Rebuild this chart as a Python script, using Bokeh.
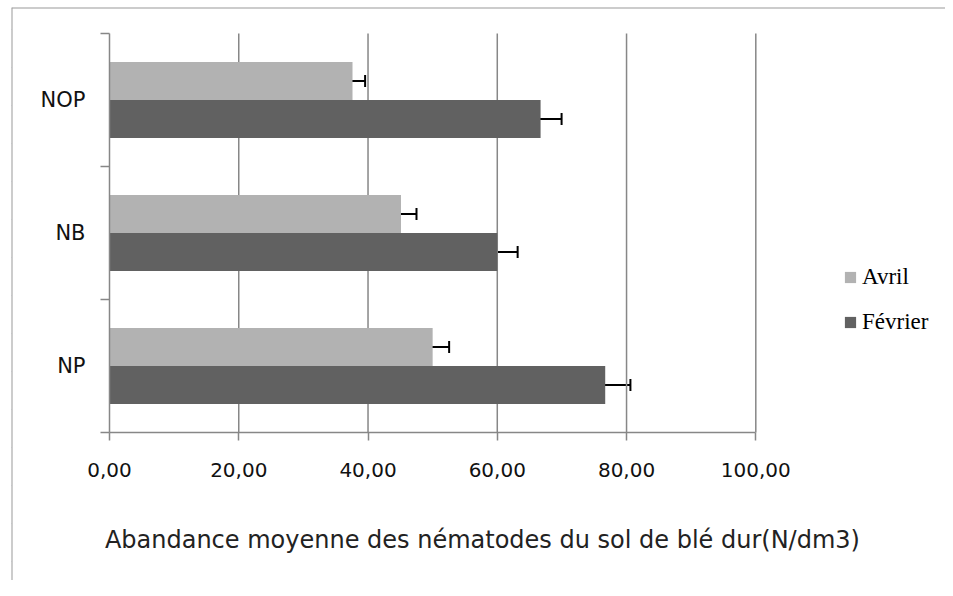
import numpy as np
from bokeh.plotting import figure
from bokeh.models import (ColumnDataSource, Range1d, LinearAxis, FixedTicker,
                          Whisker, TeeHead, Label)
from bokeh.embed import file_html
from bokeh.resources import INLINE

# ---------------- data ----------------
categories = ["NP", "NB", "NOP"]          # bottom to top
series_names = ["Avril", "Février"]
avril = [50.0, 45.1, 37.6]
fevrier = [76.7, 60.0, 66.7]
avril_err = [2.55, 2.4, 1.95]
fevrier_err = [3.9, 3.15, 3.25]
x_ticks = [0, 20, 40, 60, 80, 100]
x_tick_labels = ["0,00", "20,00", "40,00", "60,00", "80,00", "100,00"]
x_title = "Abandance moyenne des nématodes du sol de blé dur(N/dm3)"

# ---------------- style / layout ----------------
colors = ["#b2b2b2", "#616161"]
grid_color = "#878787"
frame_color = "#9a9a9a"
W, H = 945, 580
left_border = 11
top_border = 7
px_per_unit = 6.463          # horizontal pixels per data unit
zero_px = 98                 # frame px of x = 0
px_per_cat = 133             # vertical pixels per category
top_gap = 26                 # px between frame top and plot area top

n = len(categories)
x_start = -zero_px / px_per_unit
x_end = x_start + (W - left_border) / px_per_unit
y_end = n + top_gap / px_per_cat
y_start = y_end - (H - top_border) / px_per_cat

p = figure(width=W, height=H, x_range=Range1d(x_start, x_end),
           y_range=Range1d(y_start, y_end),
           x_axis_location=None, y_axis_location=None,
           toolbar_location=None, output_backend="svg")
p.min_border = 0
p.min_border_left = left_border
p.min_border_top = top_border
p.outline_line_color = None
p.grid.visible = False

cat_pos = np.arange(n) + 0.5
bar_h = 0.286

# grid lines (from tick values)
gx = x_ticks[1:]
p.segment(x0=gx, y0=[0] * len(gx), x1=gx, y1=[n] * len(gx),
          line_color=grid_color, line_width=1.5)

src_a = ColumnDataSource(dict(y=cat_pos + bar_h / 2, v=avril,
                              lo=np.array(avril) - np.array(avril_err),
                              hi=np.array(avril) + np.array(avril_err)))
src_f = ColumnDataSource(dict(y=cat_pos - bar_h / 2, v=fevrier,
                              lo=np.array(fevrier) - np.array(fevrier_err),
                              hi=np.array(fevrier) + np.array(fevrier_err)))

p.hbar(y="y", left=0, right="v", height=bar_h, source=src_a,
       fill_color=colors[0], line_color=None, legend_label=series_names[0])
p.hbar(y="y", left=0, right="v", height=bar_h, source=src_f,
       fill_color=colors[1], line_color=None, legend_label=series_names[1])

for src in (src_a, src_f):
    w = Whisker(source=src, base="y", lower="lo", upper="hi", dimension="width",
                line_color="black", line_width=2,
                lower_head=TeeHead(size=12, line_color="black", line_width=2),
                upper_head=TeeHead(size=12, line_color="black", line_width=2))
    p.add_layout(w)

# x axis
xaxis = LinearAxis(fixed_location=0, bounds=(0, 100),
                   ticker=FixedTicker(ticks=x_ticks, minor_ticks=[]),
                   major_label_overrides={t: l for t, l in zip(x_ticks, x_tick_labels)},
                   major_tick_out=8, major_tick_in=0, minor_tick_out=0, minor_tick_in=0,
                   axis_line_color=grid_color, axis_line_width=1.5,
                   major_tick_line_color=grid_color, major_tick_line_width=1.5,
                   major_label_standoff=22, major_label_text_font="DejaVu Sans",
                   major_label_text_font_size="20px", major_label_text_color="#111111")
p.add_layout(xaxis, "below")

# y (category) axis
yaxis = LinearAxis(fixed_location=0, bounds=(0, n),
                   ticker=FixedTicker(ticks=list(cat_pos), minor_ticks=list(range(n + 1))),
                   major_label_overrides={float(v): c for v, c in zip(cat_pos, categories)},
                   major_tick_out=0, major_tick_in=0, minor_tick_out=9, minor_tick_in=0,
                   axis_line_color=grid_color, axis_line_width=1.5,
                   minor_tick_line_color=grid_color, minor_tick_line_width=1.5,
                   major_label_standoff=15, major_label_text_font="DejaVu Sans",
                   major_label_text_font_size="21px", major_label_text_color="#111111")
p.add_layout(yaxis, "left")

# outer chart-area border (left with small ticks, and top)
deco_ticks = list((432 - np.arange(28.7, 580, 38)) / px_per_cat)
deco_left = LinearAxis(fixed_location=x_start,
                       ticker=FixedTicker(ticks=deco_ticks, minor_ticks=[]),
                       major_tick_out=4, major_tick_in=0, minor_tick_out=0, minor_tick_in=0,
                       axis_line_color=frame_color, axis_line_width=2,
                       major_tick_line_color="#a9acb8", major_tick_line_width=1,
                       major_label_text_color=None, major_label_standoff=0)
p.add_layout(deco_left, "left")
deco_top = LinearAxis(fixed_location=y_end,
                      ticker=FixedTicker(ticks=[], minor_ticks=[]),
                      major_tick_out=0, major_tick_in=0, minor_tick_out=0, minor_tick_in=0,
                      axis_line_color=frame_color, axis_line_width=2,
                      major_label_text_color=None, major_label_standoff=0)
p.add_layout(deco_top, "above")

# axis title
p.add_layout(Label(x=57.7, y=-0.81, text=x_title, text_align="center",
                   text_baseline="middle", text_font="DejaVu Sans",
                   text_font_size="24px", text_color="#222222"))

# legend
lg = p.legend[0]
lg.location = (832, 245)
lg.orientation = "vertical"
lg.background_fill_alpha = 0
lg.border_line_color = None
lg.padding = 0
lg.margin = 0
lg.spacing = 19
lg.glyph_width = 14
lg.glyph_height = 14
lg.label_height = 24
lg.label_standoff = 5
lg.label_text_font = "Liberation Serif"
lg.label_text_font_size = "23px"
lg.label_text_color = "black"

open("out.html", "w").write(file_html(p, INLINE))
